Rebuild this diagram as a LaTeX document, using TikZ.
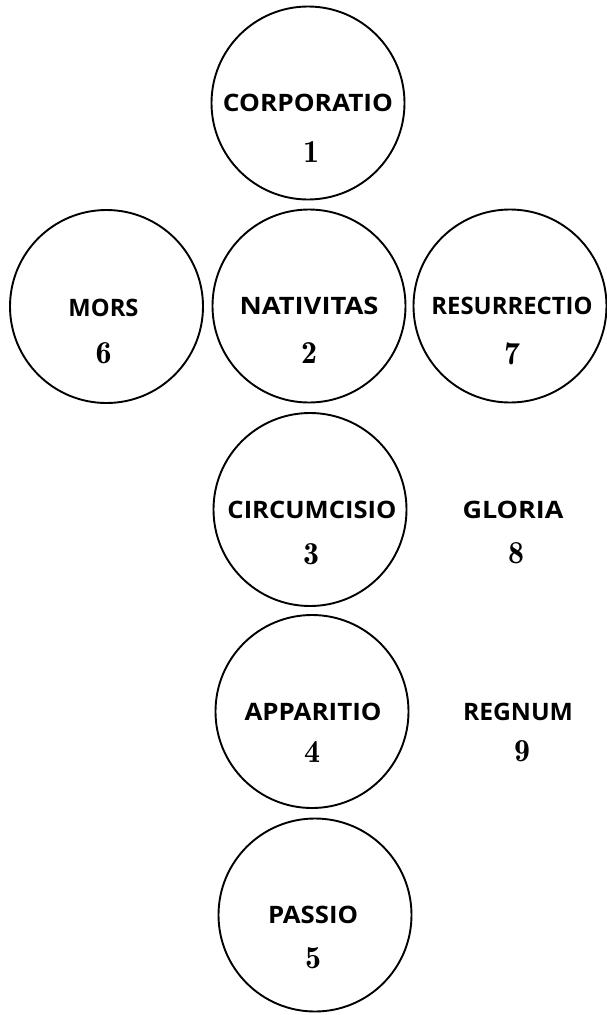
\documentclass[tikz,border=0pt]{standalone}
\usepackage{fontspec}
\usepackage{graphicx}
\usetikzlibrary{calc}
\newfontfamily\labfont{Open Sans}
\newfontfamily\numfont{lmromandemi10-regular.otf}
\newcommand\fitlab[2]{\resizebox{#1pt}{\height}{#2}}
\begin{document}
\begin{tikzpicture}[x=1pt,y=-1pt,
  disc/.style={draw=black, line width=1.9pt, circle, minimum size=193pt, inner sep=0pt},
  lab/.style={font=\labfont\bfseries\fontsize{24}{28}\selectfont, inner sep=0pt, anchor=center},
  num/.style={font=\numfont\fontsize{32}{36}\selectfont, inner sep=0pt, anchor=base}]
\useasboundingbox (0,0) rectangle (607,1015);
% circles
\node[disc] (c1) at (308,103) {};
\node[disc] (c2) at (309,306) {};
\node[disc] (c6) at (106.5,306.5) {};
\node[disc] (c7) at (510,306) {};
\node[disc] (c3) at (310,509.5) {};
\node[disc] (c4) at (312,711.5) {};
\node[disc] (c5) at (315,915) {};
% labels
\node[lab] (t1) at ($(c1.center)+(0,0)$) {\fitlab{170}{CORPORATIO}};
\node[lab] (t2) at ($(c2.center)+(0,0)$) {\fitlab{139}{NATIVITAS}};
\node[lab] (t6) at ($(c6.center)+(-3,1)$) {\fitlab{70}{MORS}};
\node[lab] (t7) at ($(c7.center)+(2,0)$) {\fitlab{161}{RESURRECTIO}};
\node[lab] (t3) at ($(c3.center)+(2,0)$) {\fitlab{169}{CIRCUMCISIO}};
\node[lab] (t4) at ($(c4.center)+(1,0)$) {\fitlab{137}{APPARITIO}};
\node[lab] (t5) at ($(c5.center)+(-2,0)$) {\fitlab{90}{PASSIO}};
\node[lab] (t8) at (513,509.5) {\fitlab{101}{GLORIA}};
\node[lab] (t9) at (518,711.5) {\fitlab{110}{REGNUM}};
% numbers
\node[num] (n1) at ($(c1.center)+(3,59)$) {1};
\node[num] (n2) at ($(c2.center)+(0,57)$) {2};
\node[num] (n6) at ($(c6.center)+(-3,57)$) {6};
\node[num] (n7) at ($(c7.center)+(2,58)$) {7};
\node[num] (n3) at ($(c3.center)+(1,55)$) {3};
\node[num] (n4) at ($(c4.center)+(0,51)$) {4};
\node[num] (n5) at ($(c5.center)+(-2,53)$) {5};
\node[num] (n8) at ($(t8.center)+(3,54)$) {8};
\node[num] (n9) at ($(t9.center)+(4,50)$) {9};
\end{tikzpicture}
\end{document}
